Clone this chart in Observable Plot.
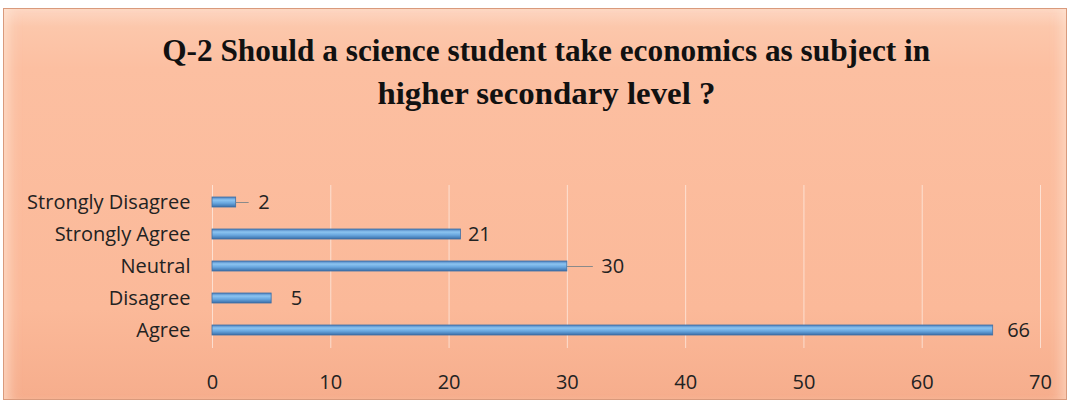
<!DOCTYPE html>
<html>
<head>
<meta charset="utf-8">
<script src="https://cdn.jsdelivr.net/npm/d3@7"></script>
<script src="https://cdn.jsdelivr.net/npm/@observablehq/plot@0.6"></script>
<style>
  html, body { margin: 0; padding: 0; background: #fff; width: 1071px; height: 405px; overflow: hidden; }
  #panel {
    position: absolute; left: 3px; top: 8px; width: 1064px; height: 392px;
    box-sizing: border-box; border: 1px solid #d99a7c;
    background: linear-gradient(to bottom, #fdd6c2 0px, #fcc7ab 18px, #fcbfa1 60px, #fbb999 300px, #f6ad8c 392px);
    box-shadow: inset 14px 0 14px -10px rgba(255,235,220,0.7), inset -14px 0 14px -10px rgba(255,235,220,0.6);
  }
  #title {
    position: absolute; left: 11px; top: 29px; width: 1071px; text-align: center;
    font-family: "Liberation Serif", "DejaVu Serif", serif; font-weight: bold;
    font-size: 31px; line-height: 43px; color: #111;
  }
  #title span { display: inline-block; transform: scaleX(1.01); transform-origin: center; white-space: nowrap; }
  #title span.l2 { transform: scaleX(1.06); }
  #chart { position: absolute; left: 0; top: 170px; }
</style>
</head>
<body>
<div id="panel"></div>
<div id="title"><span>Q-2 Should a science student take economics as subject in</span><br><span class="l2">higher secondary level ?</span></div>
<div id="chart"></div>
<script>
const categories = ["Strongly Disagree", "Strongly Agree", "Neutral", "Disagree", "Agree"];
const counts = [2, 21, 30, 5, 66];
const xTicks = [0, 10, 20, 30, 40, 50, 60, 70];

// label placement styling (pixels)
const labelGap = {"Strongly Disagree": 22, "Strongly Agree": 7, "Neutral": 34, "Disagree": 19, "Agree": 14};
const leaderLen = {"Strongly Disagree": 13, "Neutral": 26};

const rows = categories.map((c, i) => ({cat: c, value: counts[i]}));

const width = 1071, height = 230, mL = 212, mR = 31, mT = 15, mB = 52;
const pxPerUnit = (width - mL - mR) / 70;

const marks = [
  Plot.ruleX(xTicks, {x: d => d, stroke: "#ffffff", strokeOpacity: 0.55, strokeWidth: 1}),
  Plot.barX(rows, {y: "cat", x: "value", fill: "url(#barGrad)", stroke: "#3f6fa3", strokeWidth: 0.8}),
  Plot.axisY({tickSize: 0, tickPadding: 22, fontSize: 20, fill: "#222", label: null}),
  Plot.axisX({ticks: xTicks, tickSize: 0, tickPadding: 26, fontSize: 20, fill: "#222", label: null, tickFormat: d => String(d)})
];
rows.forEach(r => {
  if (leaderLen[r.cat]) {
    marks.push(Plot.ruleY([r], {y: "cat", x1: "value", x2: d => d.value + leaderLen[r.cat] / pxPerUnit, stroke: "#8a8a8a", strokeWidth: 1}));
  }
  marks.push(Plot.text([r], {y: "cat", x: "value", text: d => String(d.value), dx: labelGap[r.cat], textAnchor: "start", fontSize: 20, fill: "#222"}));
});

const chart = Plot.plot({
  width, height,
  marginLeft: mL, marginRight: mR, marginTop: mT, marginBottom: mB,
  style: {background: "transparent", fontFamily: "'Open Sans', Lato, sans-serif", color: "#222"},
  x: {domain: [0, 70], ticks: xTicks},
  y: {domain: categories, paddingInner: 0.68, paddingOuter: 0.34},
  marks
});

const svg = d3.select(chart);
const defs = svg.insert("defs", ":first-child");
const g = defs.append("linearGradient").attr("id", "barGrad").attr("x1", 0).attr("y1", 0).attr("x2", 0).attr("y2", 1);
g.append("stop").attr("offset", "0%").attr("stop-color", "#4a7fbf");
g.append("stop").attr("offset", "30%").attr("stop-color", "#8cc4f0");
g.append("stop").attr("offset", "60%").attr("stop-color", "#6aa8e0");
g.append("stop").attr("offset", "100%").attr("stop-color", "#3a6ea8");

document.getElementById("chart").appendChild(chart);
</script>
</body>
</html>
